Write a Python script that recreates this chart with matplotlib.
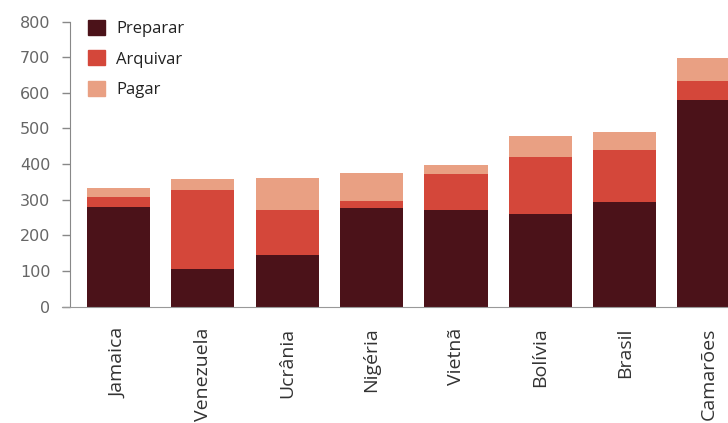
import matplotlib
matplotlib.use("Agg")
import matplotlib.pyplot as plt
import numpy as np
from matplotlib.patches import Patch

countries = ["Jamaica", "Venezuela", "Ucrânia", "Nigéria", "Vietnã", "Bolívia", "Brasil", "Camarões"]
preparar = [279, 105, 145, 276, 272, 260, 293, 581]
arquivar = [30, 221, 127, 21, 101, 160, 147, 51]
pagar = [25, 33, 90, 79, 25, 58, 49, 66]
yticks = [0, 100, 200, 300, 400, 500, 600, 700, 800]

c_prep = "#4b1219"
c_arq = "#d4473a"
c_pag = "#e9a083"

fig = plt.figure(figsize=(7.28, 4.23), dpi=100)
ax = fig.add_axes([0.096, 0.275, 0.904, 0.674])

x = np.arange(len(countries))
w = 0.75
p = np.array(preparar)
a = np.array(arquivar)
g = np.array(pagar)
ax.bar(x, p, w, color=c_prep)
ax.bar(x, a, w, bottom=p, color=c_arq)
ax.bar(x, g, w, bottom=p + a, color=c_pag)

ax.set_ylim(0, 800)
ax.set_xlim(-0.575, 7.225)
ax.set_yticks(yticks)
ax.set_yticklabels([str(v) for v in yticks], color="#666666", fontsize=11.5, family="DejaVu Sans")
ax.tick_params(axis="y", length=5.5, width=1, color="#888888", pad=8.5)
ax.set_xticks(x)
ax.set_xticklabels(countries, rotation=90, ha="center", va="top", family="Open Sans",
                   fontsize=14, color="#333333")
ax.tick_params(axis="x", length=0, pad=15)
for s in ["top", "right"]:
    ax.spines[s].set_visible(False)
ax.spines["left"].set_color("#888888")
ax.spines["bottom"].set_color("#999999")
ax.spines["bottom"].set_bounds(-0.575 - 0.09, 7.225)

handles = [Patch(color=c_prep), Patch(color=c_arq), Patch(color=c_pag)]
leg = ax.legend(handles, ["Preparar", "Arquivar", "Pagar"], loc="upper left",
                bbox_to_anchor=(88 / 728, 1 - 20 / 423), bbox_transform=fig.transFigure,
                borderaxespad=0, borderpad=0, frameon=False,
                prop={"family": "Open Sans", "size": 12},
                handlelength=1.0, handleheight=1.0, handletextpad=0.7, labelspacing=0.8)
for t in leg.get_texts():
    t.set_color("#222222")

fig.savefig("out.png", dpi=100)
